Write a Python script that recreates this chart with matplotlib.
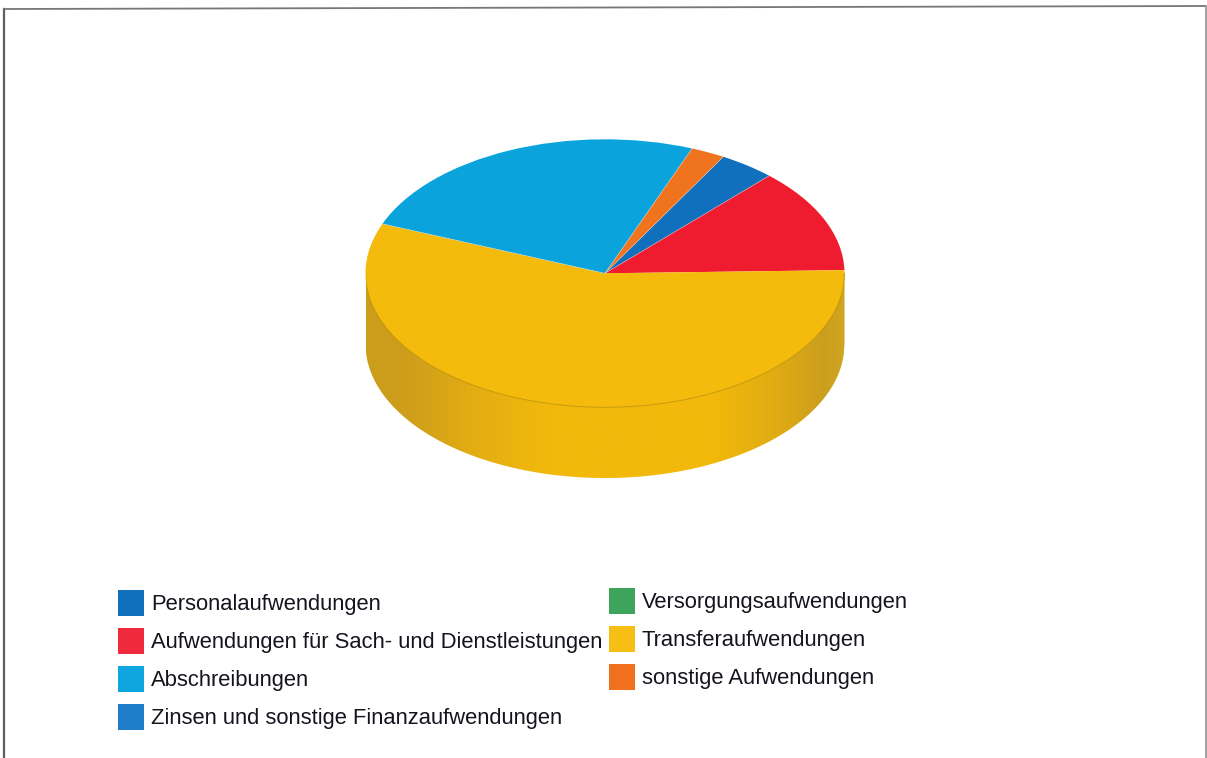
import numpy as np
import matplotlib
matplotlib.use('Agg')
import matplotlib.pyplot as plt
from matplotlib.colors import LinearSegmentedColormap
from matplotlib.patches import Rectangle

W, H = 1207, 758

# shares in percent
labels = ['Personalaufwendungen', 'Versorgungsaufwendungen',
          'Aufwendungen für Sach- und Dienstleistungen', 'Transferaufwendungen',
          'Abschreibungen', 'sonstige Aufwendungen',
          'Zinsen und sonstige Finanzaufwendungen']
values = [3.8, 0.0, 12.6, 56.4, 24.9, 2.3, 0.0]
colors = ['#1070BE', '#3FA45B', '#EE1C2E', '#F4BB0C', '#0AA3DC', '#F0731E', '#1A78C8']
swatch_colors = ['#1070BE', '#3FA45B', '#EE2A3C', '#F7BF14', '#0FA5DE', '#F0701E', '#1E7CC8']

plt.rcParams['font.family'] = ['Liberation Sans', 'DejaVu Sans']
fig = plt.figure(figsize=(W / 100, H / 100), dpi=100, facecolor='white')

# page overlay in pixel coordinates
bg = fig.add_axes([0, 0, 1, 1])
bg.set_xlim(0, W)
bg.set_ylim(H, 0)
bg.axis('off')

bg.plot([4, 4], [H, 9], color='#5f5f5f', lw=1.6)
bg.plot([4, 1205], [9, 6], color='#777777', lw=1.3)
bg.plot([1205.5, 1205.5], [6, H], color='#8a8a8a', lw=1.1)

# legend, two columns filled row by row
col_x = [118, 609]
col_y = [603, 601]
row_h = 38
size = 26
counts = [0, 0]
for i, (lab, c) in enumerate(zip(labels, swatch_colors)):
    col = 0 if i in (0, 2, 4, 6) else 1
    y = col_y[col] + counts[col] * row_h
    counts[col] += 1
    bg.add_patch(Rectangle((col_x[col], y - size / 2), size, size, facecolor=c, linewidth=0))
    bg.text(col_x[col] + 33, y + 1.5, lab, fontsize=15.85, color='#14141e', va='center', ha='left')

# pie geometry, pixels
left, right = 365.5, 844.5
top, bottom = 139.3, 478.0
ry = 134.0
depth = (bottom - top - 2 * ry) / ry

ax = fig.add_axes([left / W, 1 - bottom / H, (right - left) / W, (bottom - top) / H])

side_cmap = LinearSegmentedColormap.from_list('side', [
    (0.0, '#CC9C1B'), (0.07, '#CD9D1C'), (0.24, '#E5AE12'), (0.385, '#F2B90B'),
    (0.73, '#F2B90B'), (0.873, '#DDAA14'), (0.956, '#CC9E1E'), (1.0, '#D0A520')])
im = ax.imshow(np.linspace(0, 1, 512)[None, :], cmap=side_cmap, aspect='auto',
               extent=[-1, 1, -1 - depth, 0.0], zorder=0)
xs = np.linspace(-1, 1, 600)
lower = -np.sqrt(1 - xs ** 2)
poly = ax.fill_between(xs, lower - depth, 0.0, color='none')
im.set_clip_path(poly.get_paths()[0], transform=ax.transData)

wedges, _ = ax.pie(values, colors=colors, startangle=60.4, counterclock=False,
                   radius=1.0, wedgeprops={'linewidth': 0})

# thin light seams between the upper slices
for w, v in zip(wedges, values):
    if v > 0 and abs(w.theta1 % 360 - 1.3) > 1:
        a = np.deg2rad(w.theta1)
        ax.plot([0, np.cos(a)], [0, np.sin(a)], color='#e8e8e8', lw=0.4, alpha=0.6, zorder=3)

ax.plot(xs, lower, color='#BC940F', lw=0.7, alpha=0.8, zorder=3)

ax.set_aspect('auto')
ax.set_xlim(-1, 1)
ax.set_ylim(-1 - depth, 1)
ax.axis('off')

fig.savefig('out.png', dpi=100)
